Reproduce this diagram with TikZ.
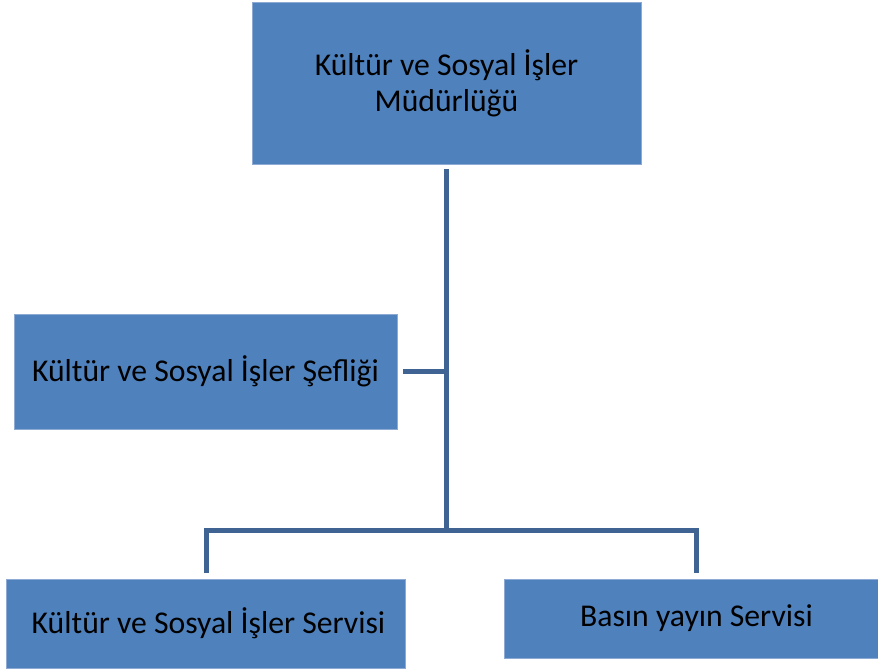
\documentclass[tikz,border=0pt]{standalone}
\usepackage{fontspec}
\setmainfont{Carlito}
\usetikzlibrary{calc}
\definecolor{boxfill}{HTML}{4F81BD}
\definecolor{boxline}{HTML}{8CAAD4}
\definecolor{connline}{HTML}{3F6494}
\tikzset{
  unit/.style={draw=boxline, line width=0.8pt, fill=boxfill, inner sep=0pt, align=center, font=\fontsize{31.7}{36}\selectfont, text=black},
  conn/.style={draw=connline, line width=5pt}
}
\begin{document}
\begin{tikzpicture}[x=1pt,y=-1pt]
\useasboundingbox (0,0) rectangle (878,671);
\node[unit, minimum width=389pt, minimum height=162pt] (top) at (446.5,83) {Kültür ve Sosyal İşler\\Müdürlüğü};
\node[unit, minimum width=383pt, minimum height=115pt] (sef) at (205.5,371.5) {Kültür ve Sosyal İşler Şefliği};
\node[unit, minimum width=399pt, minimum height=89pt] (srv) at (205.5,623.5) {\hspace*{6pt}Kültür ve Sosyal İşler Servisi};
\node[unit, minimum width=374pt, minimum height=79pt] (basin) at (691,618.5) {\hspace*{11pt}Basın yayın Servisi};
\coordinate (j) at (446.5,530);
\draw[conn, shorten <=5pt] (top.south) -- (j);
\draw[conn, shorten <=6pt] (sef.east) -- (sef.east -| j);
\draw[conn, shorten <=6pt, shorten >=6pt] ([xshift=1pt]srv.north) -- ([xshift=1pt]srv.north |- j) -- ([xshift=5.5pt]basin.north |- j) -- ([xshift=5.5pt]basin.north);
\end{tikzpicture}
\end{document}
